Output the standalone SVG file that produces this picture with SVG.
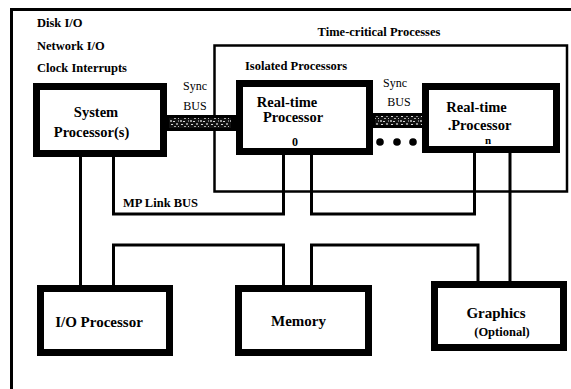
<svg xmlns="http://www.w3.org/2000/svg" width="571" height="389" viewBox="0 0 571 389">
<defs>
<style>
.lbl{font-family:"Liberation Serif","Times New Roman",serif;font-weight:bold;fill:#000}
.reg{font-family:"Liberation Serif","Times New Roman",serif;font-weight:normal;fill:#000}
.box{fill:#fff;stroke:#000;stroke-width:7}
.wire{fill:none;stroke:#000;stroke-width:3}
.frame{fill:none;stroke:#000;stroke-width:3}
.region{fill:none;stroke:#000;stroke-width:2.5}
</style>
<pattern id="speck" width="10" height="8" patternUnits="userSpaceOnUse">
<rect width="10" height="8" fill="#111"/>
<rect x="0" y="0" width="2" height="2" fill="#9a9a9a"/>
<rect x="3" y="1" width="2" height="1" fill="#cfcfcf"/>
<rect x="6" y="3" width="2" height="2" fill="#8a8a8a"/>
<rect x="1" y="4" width="2" height="1" fill="#d8d8d8"/>
<rect x="8" y="0" width="1" height="2" fill="#777"/>
<rect x="4" y="6" width="2" height="1" fill="#aaa"/>
<rect x="8" y="6" width="1" height="1" fill="#c0c0c0"/>
</pattern>
</defs>
<rect width="571" height="389" fill="#fff"/>

<g id="frame">
<polyline class="frame" points="11.5,389 11.5,9.5 571,9.5"/>
<text class="lbl" x="37" y="27" font-size="12.5">Disk I/O</text>
<text class="lbl" x="37" y="50" font-size="12.5">Network I/O</text>
<text class="lbl" x="37" y="72" font-size="12.5">Clock Interrupts</text>
</g>

<g id="time-critical">
<rect class="region" x="214.5" y="45.5" width="352.5" height="146"/>
<text class="lbl" x="379" y="36" font-size="12.5" text-anchor="middle">Time-critical Processes</text>
<text class="lbl" x="245" y="70" font-size="12.5">Isolated Processors</text>
</g>

<g id="connectors">
<line class="wire" x1="80.5" y1="155" x2="80.5" y2="286"/>
<polyline class="wire" points="113.5,155 113.5,214 283.5,214 283.5,152"/>
<polyline class="wire" points="311.5,152 311.5,214 474.5,214 474.5,150"/>
<polyline class="wire" points="113.5,286 113.5,245 283.5,245 283.5,286"/>
<polyline class="wire" points="311.5,286 311.5,245 478,245 478,282"/>
<line class="wire" x1="510" y1="150" x2="510" y2="282"/>
<text class="lbl" x="123" y="207" font-size="12.5">MP Link BUS</text>
<g id="sync-bus-1">
<rect x="165" y="115" width="73" height="16" fill="#000"/>
<rect x="169" y="118" width="62" height="10" fill="url(#speck)"/>
<text class="reg" x="195" y="90" font-size="12" text-anchor="middle">Sync</text>
<text class="reg" x="195" y="110" font-size="12" text-anchor="middle">BUS</text>
</g>
<g id="sync-bus-2">
<rect x="371" y="113" width="56" height="15" fill="#000"/>
<rect x="375" y="116" width="48" height="9" fill="url(#speck)"/>
<text class="reg" x="395" y="87" font-size="12" text-anchor="middle">Sync</text>
<text class="reg" x="399" y="106" font-size="12" text-anchor="middle">BUS</text>
<circle cx="380" cy="142" r="3.8" fill="#000"/>
<circle cx="397" cy="142" r="3.8" fill="#000"/>
<circle cx="413" cy="142" r="3.8" fill="#000"/>
</g>
</g>

<g id="system-processor">
<rect class="box" x="36.5" y="86.5" width="127" height="67"/>
<text class="lbl" x="96" y="117" font-size="14.5" text-anchor="middle">System</text>
<text class="lbl" x="91.5" y="137" font-size="14.5" text-anchor="middle">Processor(s)</text>
</g>

<g id="rt-processor-0">
<rect class="box" x="239.5" y="83.5" width="130" height="68"/>
<text class="lbl" x="287" y="107" font-size="14.5" text-anchor="middle">Real-time</text>
<text class="lbl" x="293" y="122" font-size="14.5" text-anchor="middle">Processor</text>
<text class="lbl" x="295" y="146" font-size="12" text-anchor="middle">0</text>
</g>

<g id="rt-processor-n">
<rect class="box" x="425.5" y="86.5" width="131" height="63"/>
<text class="lbl" x="476.5" y="112" font-size="14.5" text-anchor="middle">Real-time</text>
<text class="lbl" x="479.5" y="130" font-size="14.5" text-anchor="middle">.Processor</text>
<text class="lbl" x="488" y="144" font-size="11" text-anchor="middle">n</text>
</g>

<g id="io-processor">
<rect class="box" x="40.5" y="288.5" width="129" height="64"/>
<text class="lbl" x="99" y="327" font-size="15" text-anchor="middle">I/O Processor</text>
</g>

<g id="memory">
<rect class="box" x="238.5" y="288.5" width="130" height="64"/>
<text class="lbl" x="298.5" y="326" font-size="15" text-anchor="middle">Memory</text>
</g>

<g id="graphics">
<rect class="box" x="434.5" y="284.5" width="129" height="63"/>
<text class="lbl" x="496" y="318" font-size="15" text-anchor="middle">Graphics</text>
<text class="lbl" x="502" y="336" font-size="12.5" text-anchor="middle">(Optional)</text>
</g>
</svg>
